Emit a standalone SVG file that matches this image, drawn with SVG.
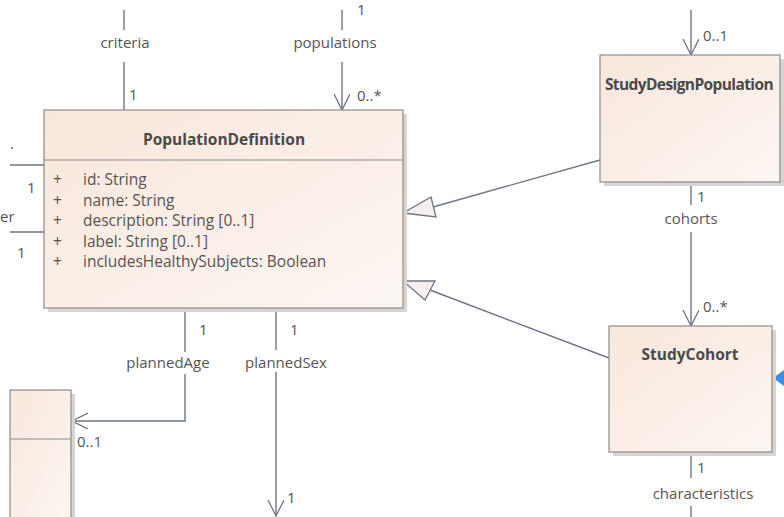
<svg xmlns="http://www.w3.org/2000/svg" width="784" height="517" viewBox="0 0 784 517">
  <defs>
    <linearGradient id="boxFill" x1="0" y1="0" x2="1" y2="1">
      <stop offset="0" stop-color="#f8e7dc"/>
      <stop offset="1" stop-color="#fcf6f2"/>
    </linearGradient>
    <marker id="openArrow" markerWidth="20" markerHeight="20" refX="16" refY="8" orient="auto" markerUnits="userSpaceOnUse">
      <path d="M0,0 L16,8 L0,16" fill="none" stroke="#6e7585" stroke-width="1.3"/>
    </marker>
  </defs>
  <style>
    .box { fill: url(#boxFill); stroke: #8c8c8c; stroke-width: 1.2; }
    .shadow { fill: #d8d4d2; }
    .div { stroke: #8c8c8c; stroke-width: 1.2; }
    .conn { fill: none; stroke: #6e7585; stroke-width: 1.4; }
    .tri { fill: #f5efed; stroke: #6e7585; stroke-width: 1.3; }
    .title { font-family: "Open Sans", "Noto Sans", sans-serif; font-weight: bold; font-size: 15.5px; fill: #4a4a4a; }
    .attr { font-family: "Open Sans", "Noto Sans", sans-serif; font-size: 15.5px; fill: #5a5252; }
    .lbl { font-family: "Open Sans", "Noto Sans", sans-serif; font-size: 15px; fill: #555; }
  </style>
  <rect width="784" height="517" fill="#ffffff"/>

  <g id="connectors">
    <!-- criteria -->
    <line class="conn" x1="124" y1="10" x2="124" y2="30"/>
    <line class="conn" x1="124" y1="62" x2="124" y2="110"/>
    <!-- populations -->
    <line class="conn" x1="342" y1="10" x2="342" y2="30"/>
    <line class="conn" x1="342" y1="62" x2="342" y2="110" marker-end="url(#openArrow)"/>
    <!-- left side associations -->
    <line class="conn" x1="10" y1="165" x2="44" y2="165"/>
    <line class="conn" x1="10" y1="232" x2="44" y2="232"/>
    <!-- StudyDesignPopulation incoming -->
    <line class="conn" x1="691" y1="10" x2="691" y2="55" marker-end="url(#openArrow)"/>
    <!-- generalization StudyDesignPopulation -> PopulationDefinition -->
    <line class="conn" x1="600" y1="160" x2="433" y2="207"/>
    <polygon class="tri" points="403,213 431,197 436,217"/>
    <!-- cohorts -->
    <line class="conn" x1="691" y1="182" x2="691" y2="205"/>
    <line class="conn" x1="691" y1="232" x2="691" y2="326" marker-end="url(#openArrow)"/>
    <!-- generalization StudyCohort -> PopulationDefinition -->
    <line class="conn" x1="609" y1="358" x2="430" y2="290"/>
    <polygon class="tri" points="403,281 435,281 425,300"/>
    <!-- characteristics -->
    <line class="conn" x1="691" y1="452" x2="691" y2="478"/>
    <line class="conn" x1="691" y1="506" x2="691" y2="517"/>
    <!-- plannedAge -->
    <line class="conn" x1="185" y1="309" x2="185" y2="352"/>
    <polyline class="conn" points="185,374 185,421 72,421" marker-end="url(#openArrow)"/>
    <!-- plannedSex -->
    <line class="conn" x1="276" y1="309" x2="276" y2="350"/>
    <line class="conn" x1="276" y1="372" x2="276" y2="516" marker-end="url(#openArrow)"/>
    <!-- highlight pointer -->
    <polygon points="773,378 784,370 784,386" fill="#3a8ee6"/>
  </g>

  <g id="connector-labels">
    <text class="lbl" x="125" y="48" text-anchor="middle">criteria</text>
    <text class="lbl" x="129" y="100">1</text>
    <text class="lbl" x="335" y="48" text-anchor="middle">populations</text>
    <text class="lbl" x="357" y="101">0..*</text>
    <text class="lbl" x="357" y="15">1</text>
    <text class="lbl" x="27" y="193">1</text>
    <text class="lbl" x="0" y="222">er</text>
    <text class="lbl" x="17" y="258">1</text>
    <text class="lbl" x="10" y="149">.</text>
    <text class="lbl" x="703" y="41">0..1</text>
    <text class="lbl" x="697" y="202">1</text>
    <text class="lbl" x="691" y="224" text-anchor="middle">cohorts</text>
    <text class="lbl" x="703" y="312">0..*</text>
    <text class="lbl" x="697" y="473">1</text>
    <text class="lbl" x="703" y="499" text-anchor="middle">characteristics</text>
    <text class="lbl" x="199" y="335">1</text>
    <text class="lbl" x="168" y="368" text-anchor="middle">plannedAge</text>
    <text class="lbl" x="77" y="447">0..1</text>
    <text class="lbl" x="290" y="335">1</text>
    <text class="lbl" x="286" y="368" text-anchor="middle">plannedSex</text>
    <text class="lbl" x="287" y="503">1</text>
  </g>

  <g id="PopulationDefinition">
    <rect class="shadow" x="48" y="114" width="359" height="198"/>
    <rect class="box" x="44" y="110" width="359" height="198"/>
    <line class="div" x1="44" y1="160" x2="403" y2="160"/>
    <text class="title" x="224" y="145" text-anchor="middle">PopulationDefinition</text>
    <text class="attr" x="53" y="185">+</text><text class="attr" x="83" y="185">id: String</text>
    <text class="attr" x="53" y="206">+</text><text class="attr" x="83" y="206">name: String</text>
    <text class="attr" x="53" y="226">+</text><text class="attr" x="83" y="226">description: String [0..1]</text>
    <text class="attr" x="53" y="247">+</text><text class="attr" x="83" y="247">label: String [0..1]</text>
    <text class="attr" x="53" y="267">+</text><text class="attr" x="83" y="267">includesHealthySubjects: Boolean</text>
  </g>

  <g id="StudyDesignPopulation">
    <rect class="shadow" x="604" y="59" width="180" height="127"/>
    <rect class="box" x="600" y="55" width="180" height="127"/>
    <text class="title" x="689" y="90" text-anchor="middle" letter-spacing="-0.6">StudyDesignPopulation</text>
  </g>

  <g id="StudyCohort">
    <rect class="shadow" x="613" y="330" width="163" height="126"/>
    <rect class="box" x="609" y="326" width="163" height="126"/>
    <text class="title" x="690" y="360" text-anchor="middle">StudyCohort</text>
  </g>

  <g id="PlannedAgeTarget">
    <rect class="shadow" x="14" y="394" width="61" height="127"/>
    <rect class="box" x="10" y="390" width="61" height="135"/>
    <line class="div" x1="10" y1="439" x2="71" y2="439"/>
  </g>
</svg>
